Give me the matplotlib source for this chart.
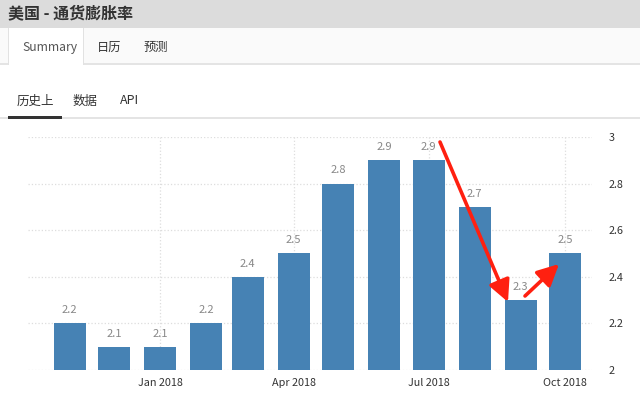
import matplotlib.pyplot as plt
from matplotlib.patches import Rectangle, FancyArrowPatch
import datetime as dt

plt.rcParams['font.family'] = ['Noto Sans CJK SC', 'DejaVu Sans']

# data
months = ["2017-11", "2017-12", "2018-01", "2018-02", "2018-03", "2018-04",
          "2018-05", "2018-06", "2018-07", "2018-08", "2018-09", "2018-10"]
inflation = [2.2, 2.1, 2.1, 2.2, 2.4, 2.5, 2.8, 2.9, 2.9, 2.7, 2.3, 2.5]
tick_months = ["2018-01", "2018-04", "2018-07", "2018-10"]
tick_labels = ["Jan 2018", "Apr 2018", "Jul 2018", "Oct 2018"]
y_ticks = [2, 2.2, 2.4, 2.6, 2.8, 3]

title = "美国 - 通货膨胀率"
tabs_top = ["Summary", "日历", "预测"]
tabs_sub = ["历史上", "数据", "API"]

W, H = 640, 401
fig = plt.figure(figsize=(W / 100, H / 100), dpi=100)
fig.patch.set_facecolor("white")


def px(x, y):
    return x / W, 1 - y / H


def box(x0, y0, x1, y1, **kw):
    fig.patches.append(Rectangle((x0 / W, 1 - y1 / H), (x1 - x0) / W, (y1 - y0) / H,
                                 transform=fig.transFigure, **kw))


# page chrome
box(0, 0, W, 28, facecolor="#dcdcdc", edgecolor="none")
box(0, 28, W, 64, facecolor="#fafafa", edgecolor="none")
box(0, 63.5, W, 65, facecolor="#e4e4e4", edgecolor="none")
box(8, 28, 84, 65, facecolor="white", edgecolor="none")
box(8, 28, 8.8, 65, facecolor="#e2e2e2", edgecolor="none")
box(83.2, 28, 84, 65, facecolor="#e2e2e2", edgecolor="none")
box(0, 117, W, 118.5, facecolor="#e4e4e4", edgecolor="none")
box(8, 116, 62, 118.5, facecolor="#333333", edgecolor="none")

fig.text(*px(8, 13), title, fontsize=11.5, fontweight="bold", color="#333333", va="center")
for label, x in zip(tabs_top, [22, 97, 143]):
    fig.text(*px(x, 47), label, fontsize=8.8, color="#555555" if x == 22 else "#333333",
             va="center")
for label, x in zip(tabs_sub, [17, 73, 120]):
    fig.text(*px(x, 101), label, fontsize=9, color="#333333", va="center")

# chart
ax = fig.add_axes([28 / W, 1 - 370 / H, (592 - 28) / W, (370 - 137) / H])
dates = [dt.datetime.strptime(m, "%Y-%m") for m in months]
ax.bar(dates, inflation, width=21.5, color="#4682b4", zorder=3)
for d, v in zip(dates, inflation):
    ax.text(d, v + 0.035, f"{v:.1f}", ha="center", va="bottom", fontsize=8, color="#888888")

ax.set_ylim(2, 3)
ax.set_xlim(dt.datetime(2017, 10, 4), dt.datetime(2018, 10, 19))
ticks = [dt.datetime.strptime(m, "%Y-%m") for m in tick_months]
ax.set_xticks(ticks)
ax.set_xticklabels(tick_labels, fontsize=7.8, color="#333333")
ax.yaxis.tick_right()
ax.set_yticks(y_ticks)
ax.set_yticklabels([f"{t:g}" for t in y_ticks], fontsize=7.8, color="#333333")
ax.tick_params(length=0, pad=6)
ax.tick_params(axis="y", pad=12)
ax.grid(True, color="#dddddd", linestyle=":", linewidth=0.9, zorder=0)
for s in ax.spines.values():
    s.set_visible(False)

# red arrows
arrow = dict(arrowstyle="-|>,head_length=1.0,head_width=0.5", color="#ff2010", lw=2.6,
             shrinkA=0, shrinkB=0)
fig.add_artist(FancyArrowPatch(px(440, 142), px(508, 302), transform=fig.transFigure,
                               mutation_scale=13, **arrow))
fig.add_artist(FancyArrowPatch(px(525, 296), px(559, 264), transform=fig.transFigure,
                               mutation_scale=13, **arrow))

fig.savefig("out.png", dpi=100)
